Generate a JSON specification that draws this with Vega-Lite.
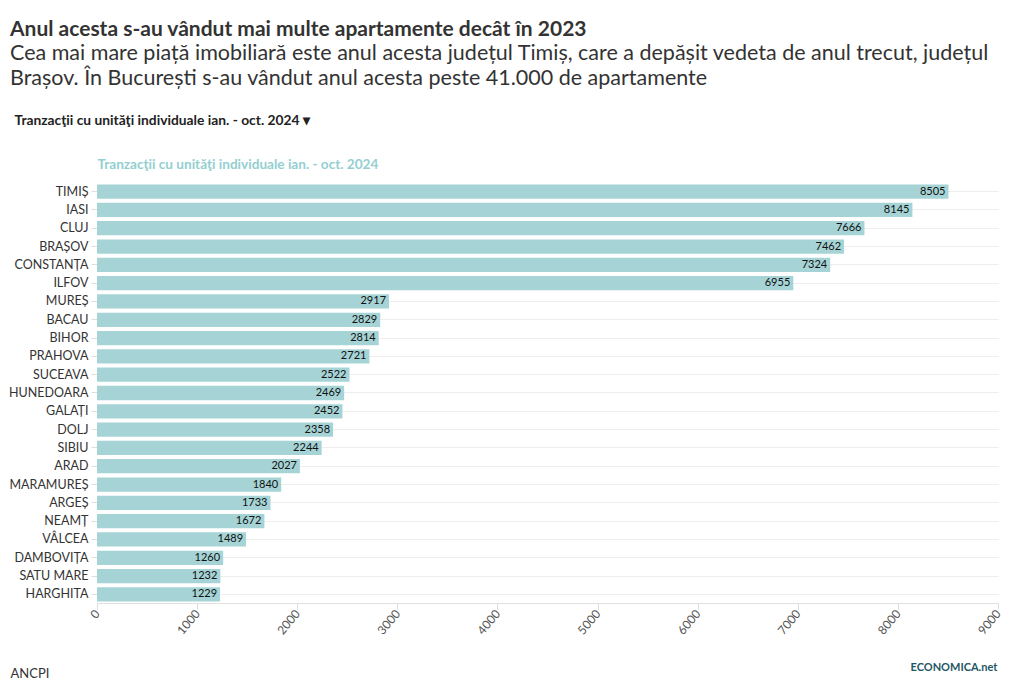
{
  "$schema": "https://vega.github.io/schema/vega-lite/v6.json",
  "autosize": "none",
  "width": 901,
  "height": 420,
  "padding": {"left": 97, "top": 183, "right": 22, "bottom": 93},
  "background": "white",
  "config": {
    "font": "Lato",
    "view": {"stroke": null}
  },
  "title": {
    "text": "Anul acesta s-au vândut mai multe apartamente decât în 2023",
    "subtitle": ["Cea mai mare piață imobiliară este anul acesta județul Timiș, care a depășit vedeta de anul trecut, județul", "Brașov. În București s-au vândut anul acesta peste 41.000 de apartamente"],
    "anchor": "start",
    "frame": "group",
    "dx": -87,
    "offset": 24,
    "font": "Lato",
    "fontSize": 21,
    "fontWeight": "bold",
    "color": "#333333",
    "subtitleFont": "Lato",
    "subtitleFontSize": 21.5,
    "subtitleColor": "#333333",
    "subtitleLineHeight": 25,
    "subtitlePadding": 3
  },
  "data": {
    "values": [
      {"judet": "TIMIȘ", "valoare": 8505},
      {"judet": "IASI", "valoare": 8145},
      {"judet": "CLUJ", "valoare": 7666},
      {"judet": "BRAȘOV", "valoare": 7462},
      {"judet": "CONSTANȚA", "valoare": 7324},
      {"judet": "ILFOV", "valoare": 6955},
      {"judet": "MUREȘ", "valoare": 2917},
      {"judet": "BACAU", "valoare": 2829},
      {"judet": "BIHOR", "valoare": 2814},
      {"judet": "PRAHOVA", "valoare": 2721},
      {"judet": "SUCEAVA", "valoare": 2522},
      {"judet": "HUNEDOARA", "valoare": 2469},
      {"judet": "GALAȚI", "valoare": 2452},
      {"judet": "DOLJ", "valoare": 2358},
      {"judet": "SIBIU", "valoare": 2244},
      {"judet": "ARAD", "valoare": 2027},
      {"judet": "MARAMUREȘ", "valoare": 1840},
      {"judet": "ARGEȘ", "valoare": 1733},
      {"judet": "NEAMȚ", "valoare": 1672},
      {"judet": "VÂLCEA", "valoare": 1489},
      {"judet": "DAMBOVIȚA", "valoare": 1260},
      {"judet": "SATU MARE", "valoare": 1232},
      {"judet": "HARGHITA", "valoare": 1229}
    ]
  },
  "resolve": {"axis": {"x": "independent", "y": "independent"}},
  "layer": [
    {
      "mark": {"type": "bar", "color": "#a6d4d6"},
      "encoding": {
        "y": {
          "field": "judet", "type": "nominal", "sort": null,
          "scale": {"paddingInner": 0.22, "paddingOuter": 0.08},
          "axis": {
            "title": "Tranzacţii cu unităţi individuale ian. - oct. 2024 ▾",
            "titleAngle": 0, "titleX": -83, "titleY": -63,
            "titleAlign": "left", "titleBaseline": "middle",
            "titleFontSize": 13.8, "titleFontWeight": "bold", "titleColor": "#222222",
            "labelFontSize": 12.5, "labelColor": "#333333", "labelPadding": 3,
            "tickSize": 6, "tickColor": "#dddddd",
            "domain": false, "grid": true, "gridColor": "#eeeeee"
          }
        },
        "x": {
          "field": "valoare", "type": "quantitative",
          "scale": {"domain": [0, 9000]},
          "axis": {
            "values": [0, 1000, 2000, 3000, 4000, 5000, 6000, 7000, 8000, 9000],
            "labelAngle": -50, "labelFontSize": 12, "labelColor": "#555555",
            "format": "d", "grid": false,
            "tickColor": "#dddddd", "tickSize": 6, "domainColor": "#e0e0e0",
            "title": "ANCPI", "titleX": -87, "titleY": 70,
            "titleAlign": "left", "titleBaseline": "middle", "titleAnchor": null,
            "titleFontSize": 13, "titleFontWeight": "normal", "titleColor": "#333333"
          }
        }
      }
    },
    {
      "mark": {"type": "text", "align": "right", "dx": -3, "fontSize": 11, "color": "#111111"},
      "encoding": {
        "y": {
          "field": "judet", "type": "nominal", "sort": null,
          "axis": {
            "orient": "right", "labels": false, "ticks": false, "domain": false, "grid": false,
            "title": "ECONOMICA.net", "titleAngle": 0, "titleX": -88, "titleY": 484,
            "titleAlign": "left", "titleBaseline": "middle",
            "titleFontSize": 11, "titleFontWeight": "bold", "titleColor": "#1f5665"
          }
        },
        "x": {
          "field": "valoare", "type": "quantitative",
          "axis": {
            "orient": "top", "labels": false, "ticks": false, "domain": false, "grid": false,
            "title": "Tranzacţii cu unităţi individuale ian. - oct. 2024",
            "titleX": 0, "titleY": -19, "titleAlign": "left", "titleBaseline": "middle",
            "titleFontSize": 13.6, "titleFontWeight": "bold", "titleColor": "#93cfd1"
          }
        },
        "text": {"field": "valoare", "type": "quantitative", "format": "d"}
      }
    }
  ]
}
